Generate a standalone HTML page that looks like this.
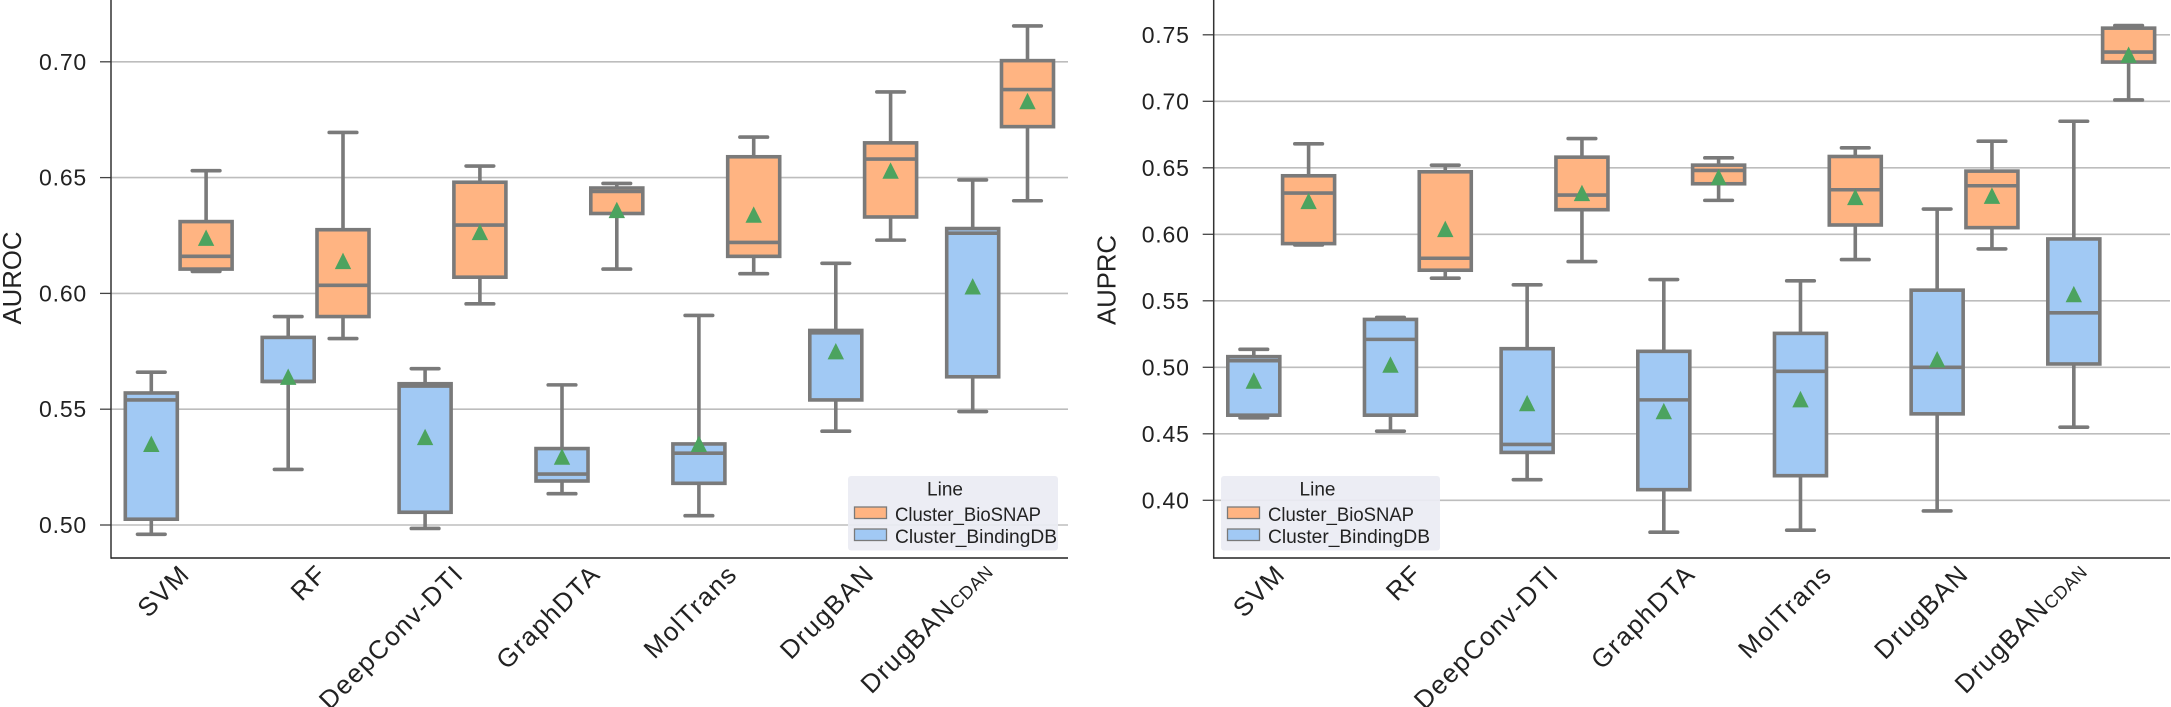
<!DOCTYPE html>
<html>
<head>
<meta charset="utf-8">
<title>AUROC and AUPRC box plots</title>
<style>
html,body{margin:0;padding:0;background:#fff;width:2171px;height:707px;overflow:hidden}
svg{display:block;font-family:"Liberation Sans",sans-serif}
</style>
</head>
<body>
<svg id="chart" xmlns="http://www.w3.org/2000/svg" width="2171" height="707" viewBox="0 0 2171 707"></svg>
<script>
const categories = ['SVM','RF','DeepConv-DTI','GraphDTA','MolTrans','DrugBAN','DrugBAN'];
const categorySubscripts = ['','','','','','','CDAN'];
const legendLabels = ['Cluster_BioSNAP','Cluster_BindingDB'];

const aurocTicks = [0.50,0.55,0.60,0.65,0.70];
const auprcTicks = [0.40,0.45,0.50,0.55,0.60,0.65,0.70,0.75];

const aurocBlueLow = [0.496,0.524,0.4985,0.5135,0.504,0.5405,0.549];
const aurocBlueQ1 = [0.5025,0.562,0.5055,0.519,0.518,0.554,0.564];
const aurocBlueMedian = [0.554,0.562,0.560,0.522,0.531,0.583,0.626];
const aurocBlueQ3 = [0.557,0.581,0.561,0.533,0.535,0.584,0.628];
const aurocBlueHigh = [0.566,0.590,0.5675,0.5605,0.5905,0.613,0.649];
const aurocBlueMean = [0.535,0.564,0.538,0.5295,0.535,0.575,0.603];

const aurocOrangeLow = [0.6095,0.5805,0.5955,0.6105,0.6085,0.623,0.640];
const aurocOrangeQ1 = [0.6105,0.590,0.607,0.6345,0.616,0.633,0.672];
const aurocOrangeMedian = [0.616,0.6035,0.6295,0.644,0.622,0.658,0.688];
const aurocOrangeQ3 = [0.631,0.6275,0.648,0.6455,0.659,0.665,0.7005];
const aurocOrangeHigh = [0.653,0.6695,0.655,0.6475,0.6675,0.687,0.7155];
const aurocOrangeMean = [0.624,0.614,0.6265,0.636,0.634,0.653,0.683];

const auprcBlueLow = [0.462,0.452,0.4155,0.376,0.3775,0.392,0.455];
const auprcBlueQ1 = [0.464,0.464,0.436,0.408,0.4185,0.465,0.5025];
const auprcBlueMedian = [0.505,0.521,0.442,0.4755,0.497,0.500,0.541];
const auprcBlueQ3 = [0.508,0.536,0.514,0.512,0.5255,0.558,0.5965];
const auprcBlueHigh = [0.5135,0.5375,0.562,0.566,0.565,0.619,0.685];
const auprcBlueMean = [0.490,0.502,0.473,0.467,0.476,0.506,0.555];

const auprcOrangeLow = [0.592,0.567,0.5795,0.6255,0.581,0.589,0.701];
const auprcOrangeQ1 = [0.593,0.573,0.6185,0.638,0.607,0.605,0.7295];
const auprcOrangeMedian = [0.631,0.582,0.6295,0.648,0.6335,0.6365,0.737];
const auprcOrangeQ3 = [0.644,0.647,0.658,0.652,0.6585,0.6475,0.755];
const auprcOrangeHigh = [0.668,0.652,0.672,0.6575,0.665,0.670,0.757];
const auprcOrangeMean = [0.625,0.604,0.631,0.643,0.628,0.629,0.735];

const NS = 'http://www.w3.org/2000/svg';
const root = document.getElementById('chart');
const GREY = '#7a7a7a';
const ORANGE = '#ffb482';
const BLUE = '#a1c9f4';
const GREEN = '#4ca35f';

function make(parent, tag, attrs) {
  const el = document.createElementNS(NS, tag);
  for (const k in attrs) el.setAttribute(k, attrs[k]);
  parent.appendChild(el);
  return el;
}

function drawBox(g, cx, yScale, low, q1, med, q3, high, mean, fill, idx, key) {
  const box = make(g, 'g', {});
  
  
  const hw = 26;
  const capHw = 13.8;
  const common = {stroke: GREY, 'stroke-width': 3.6, fill: 'none'};
  const whiskerLow = make(box, 'line', Object.assign({x1: cx, x2: cx, y1: yScale(q1), y2: yScale(low)}, common));
  
  
  const whiskerHigh = make(box, 'line', Object.assign({x1: cx, x2: cx, y1: yScale(q3), y2: yScale(high)}, common));
  
  
  const capLow = make(box, 'line', Object.assign({x1: cx - capHw, x2: cx + capHw, y1: yScale(low), y2: yScale(low), 'stroke-linecap': 'round'}, common));
  
  
  const capHigh = make(box, 'line', Object.assign({x1: cx - capHw, x2: cx + capHw, y1: yScale(high), y2: yScale(high), 'stroke-linecap': 'round'}, common));
  
  
  const rect = make(box, 'rect', {x: cx - hw, width: hw * 2, y: yScale(q3), height: yScale(q1) - yScale(q3), fill: fill, stroke: GREY, 'stroke-width': 3.6});
  
  
  const medianLine = make(box, 'line', Object.assign({x1: cx - hw, x2: cx + hw, y1: yScale(med), y2: yScale(med)}, common));
  
  
  const my = yScale(mean);
  const tri = make(box, 'polygon', {points: (cx) + ',' + (my - 8.3) + ' ' + (cx + 8.2) + ',' + (my + 8.1) + ' ' + (cx - 8.2) + ',' + (my + 8.1), fill: GREEN});
  
  
}

function drawPanel(cfg) {
  const panel = make(root, 'g', {});
  
  
  const y = cfg.y;
  const xCat = function (i) { return cfg.c0 + i * cfg.step; };

  cfg.ticks.forEach(function (t) {
    const tg = make(panel, 'g', {});
    
    
    make(tg, 'line', {x1: cfg.spine, x2: cfg.right, y1: y(t), y2: y(t), stroke: '#bdbdbd', 'stroke-width': 1.6});
    make(tg, 'line', {x1: cfg.spine - 11, x2: cfg.spine, y1: y(t), y2: y(t), stroke: '#444', 'stroke-width': 1.3});
    const lab = make(tg, 'text', {x: cfg.spine - 24, y: y(t) + 8, 'text-anchor': 'end', 'font-size': 23, fill: '#222', 'letter-spacing': 0.8});
    lab.textContent = t.toFixed(2);
  });

  const spineY = make(panel, 'line', {x1: cfg.spine, x2: cfg.spine, y1: 0, y2: 558.7, stroke: '#333', 'stroke-width': 1.5});
  
  
  const spineX = make(panel, 'line', {x1: cfg.spine, x2: cfg.right, y1: 558, y2: 558, stroke: '#222', 'stroke-width': 1.5});
  
  

  const title = make(panel, 'text', {transform: 'translate(' + cfg.titleX + ',' + cfg.titleY + ') rotate(-90)', 'text-anchor': 'middle', 'font-size': 26, fill: '#222', textLength: cfg.titleLen, lengthAdjust: 'spacingAndGlyphs'});
  title.textContent = cfg.title;
  
  

  categories.forEach(function (c, i) {
    const cx = xCat(i);
    drawBox(panel, cx - 27.4, y, cfg.blue[0][i], cfg.blue[1][i], cfg.blue[2][i], cfg.blue[3][i], cfg.blue[4][i], cfg.blue[5][i], BLUE, i, 'bindingdb');
    drawBox(panel, cx + 27.4, y, cfg.orange[0][i], cfg.orange[1][i], cfg.orange[2][i], cfg.orange[3][i], cfg.orange[4][i], cfg.orange[5][i], ORANGE, i, 'biosnap');
  });

  categories.forEach(function (c, i) {
    const cx = xCat(i);
    const hasSub = !!categorySubscripts[i];
    const tx = cx + cfg.labelDx - (hasSub ? 19 : 0);
    const ty = hasSub ? 559 : 562;
    const lab = make(panel, 'text', {transform: 'translate(' + tx + ',' + ty + ') rotate(-45)', 'text-anchor': 'end', 'font-size': 26, fill: '#222', 'dominant-baseline': 'hanging', 'letter-spacing': 1.5});
    
    
    lab.appendChild(document.createTextNode(c));
    if (hasSub) {
      const sub = make(lab, 'tspan', {'font-size': 18, dy: 7, 'letter-spacing': 0.4});
      sub.textContent = categorySubscripts[i];
    }
  });

  const lg = make(panel, 'g', {});
  
  
  make(lg, 'rect', {x: cfg.legendX, y: 476, width: cfg.legendW, height: 74.5, rx: 3, fill: '#eaecf3', 'fill-opacity': 0.92});
  const lt = make(lg, 'text', {x: cfg.legendX + cfg.legendW / 2 + cfg.legendTitleDx, y: 495.5, 'text-anchor': 'middle', 'font-size': 19, fill: '#222'});
  lt.textContent = 'Line';
  
  
  legendLabels.forEach(function (l, i) {
    const row = make(lg, 'g', {});
    
    
    const top = 507 + i * 22;
    make(row, 'rect', {x: cfg.legendX + 6.5, y: top, width: 32, height: 11.5, fill: i === 0 ? ORANGE : BLUE, stroke: GREY, 'stroke-width': 1.3});
    const tx = make(row, 'text', {x: cfg.legendX + 47, y: top + 14, 'font-size': 19, fill: '#222', textLength: i === 0 ? 146 : 162, lengthAdjust: 'spacingAndGlyphs'});
    tx.textContent = l;
  });
}

drawPanel({
  name: 'auroc', title: 'AUROC', titleX: 21, titleY: 278, titleLen: 93,
  ticks: aurocTicks, spine: 111, right: 1068, c0: 178.7, step: 136.9, labelDx: -1,
  y: function (v) { return 525 - (v - 0.5) / 0.05 * 115.8; },
  blue: [aurocBlueLow, aurocBlueQ1, aurocBlueMedian, aurocBlueQ3, aurocBlueHigh, aurocBlueMean],
  orange: [aurocOrangeLow, aurocOrangeQ1, aurocOrangeMedian, aurocOrangeQ3, aurocOrangeHigh, aurocOrangeMean],
  legendX: 848, legendW: 210, legendTitleDx: -8
});

drawPanel({
  name: 'auprc', title: 'AUPRC', titleX: 1115.5, titleY: 280, titleLen: 90,
  ticks: auprcTicks, spine: 1213.7, right: 2170, c0: 1281.2, step: 136.67, labelDx: -8,
  y: function (v) { return 500.3 - (v - 0.4) / 0.05 * 66.5; },
  blue: [auprcBlueLow, auprcBlueQ1, auprcBlueMedian, auprcBlueQ3, auprcBlueHigh, auprcBlueMean],
  orange: [auprcOrangeLow, auprcOrangeQ1, auprcOrangeMedian, auprcOrangeQ3, auprcOrangeHigh, auprcOrangeMean],
  legendX: 1221, legendW: 219, legendTitleDx: -13
});
</script>
</body>
</html>
